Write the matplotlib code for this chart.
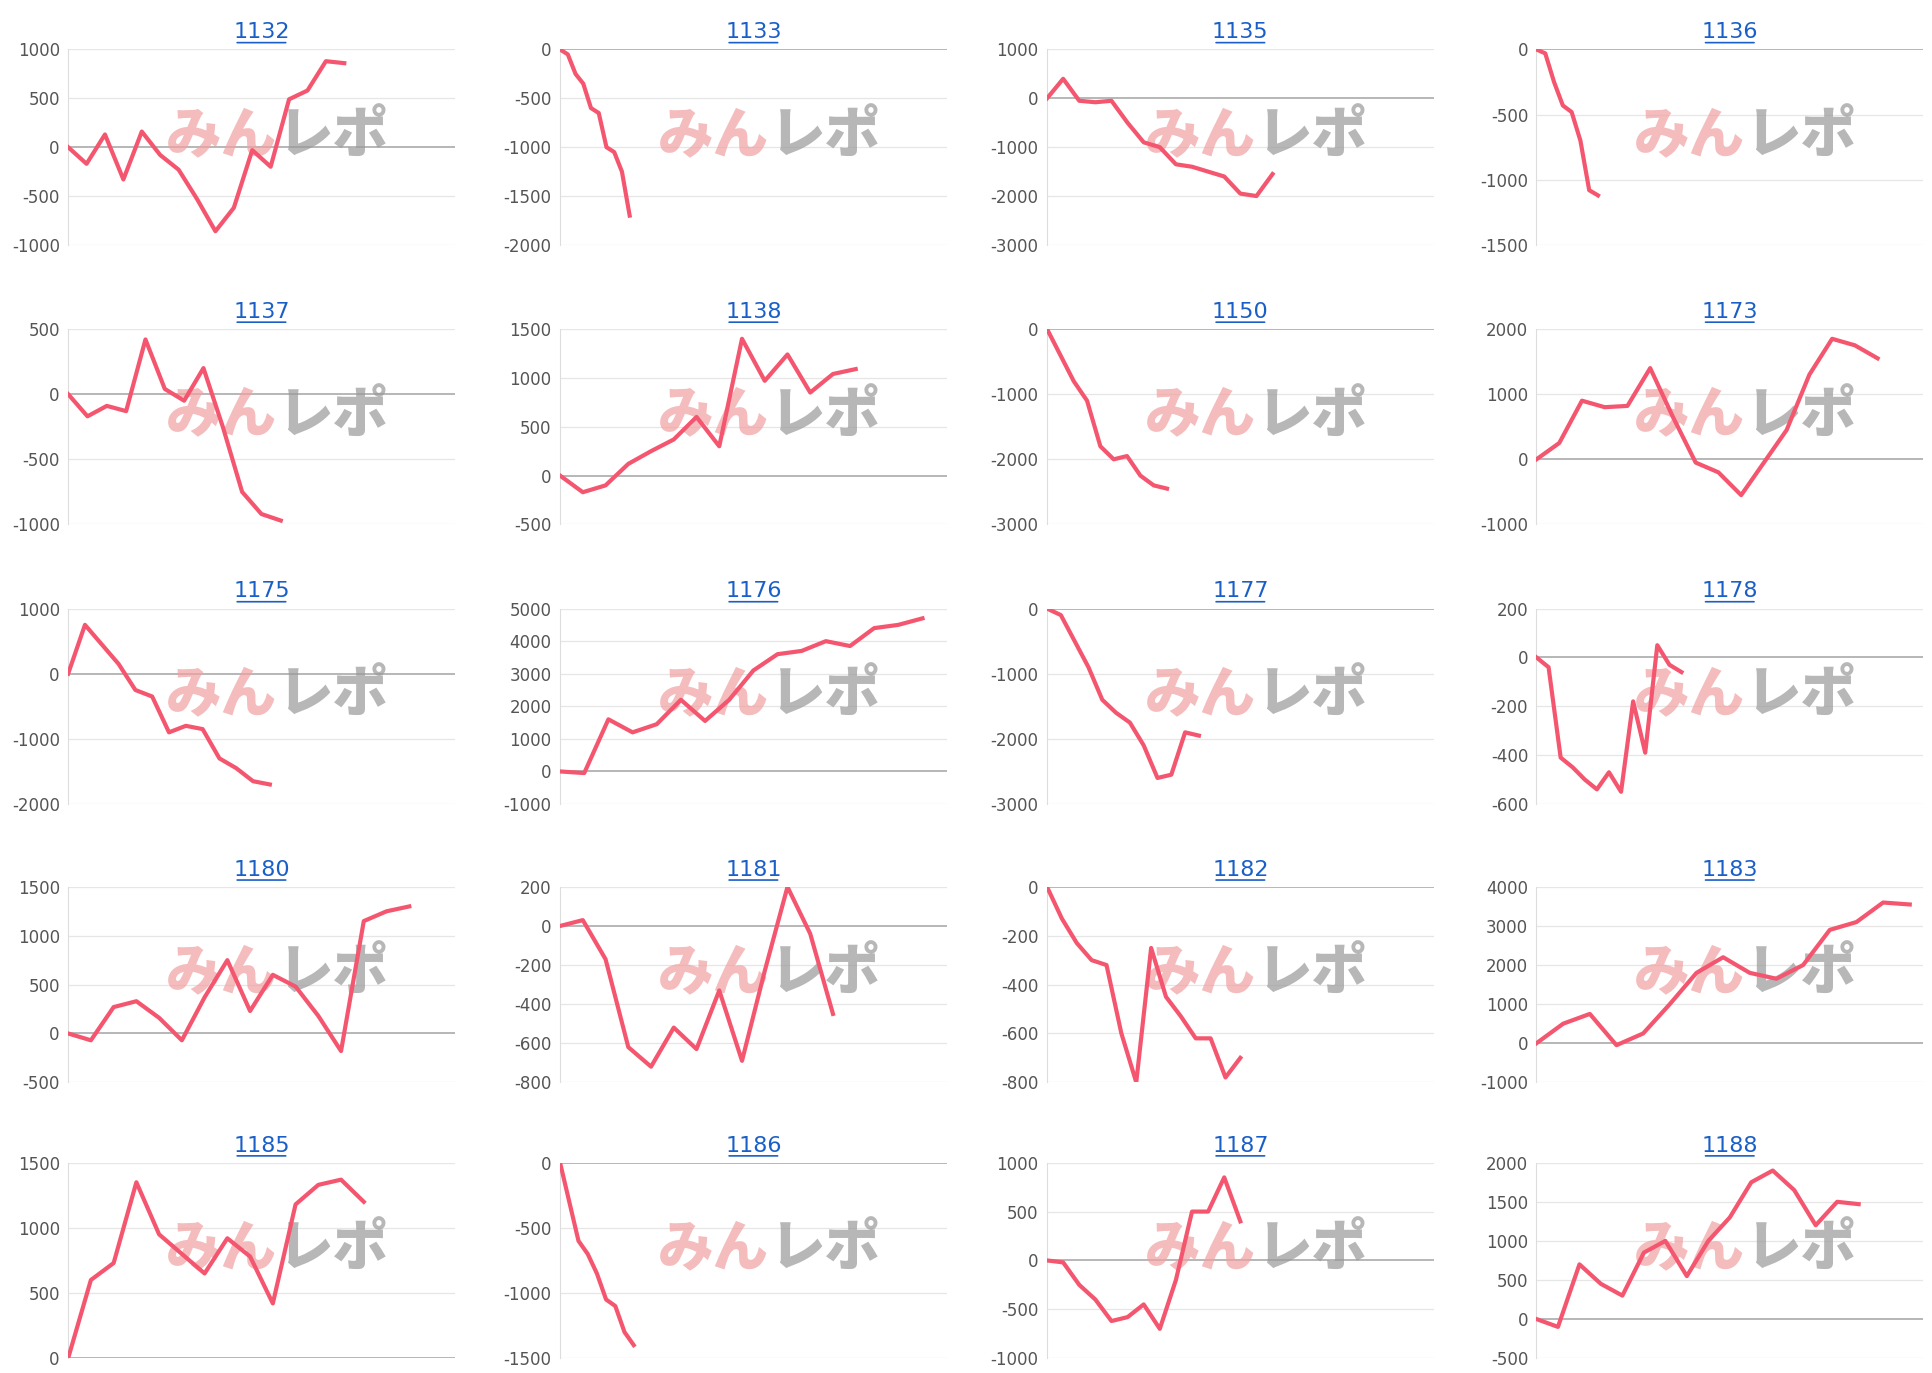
import matplotlib
matplotlib.use("Agg")
import matplotlib.pyplot as plt
import numpy as np

titles = ["1132","1133","1135","1136","1137","1138","1150","1173","1175","1176",
          "1177","1178","1180","1181","1182","1183","1185","1186","1187","1188"]
s1132 = [0,-170,130,-330,160,-80,-230,-530,-860,-620,-30,-200,490,580,880,860]
s1133 = [0,-50,-250,-350,-600,-650,-1000,-1050,-1250,-1700]
s1135 = [0,400,-50,-80,-50,-500,-900,-1000,-1350,-1400,-1500,-1600,-1950,-2000,-1550]
s1136 = [0,-30,-250,-430,-480,-700,-1080,-1120]
s1137 = [0,-170,-90,-130,420,40,-50,200,-250,-750,-920,-970]
s1138 = [0,-170,-100,120,250,370,600,300,1400,970,1240,850,1040,1090]
s1150 = [0,-400,-800,-1100,-1800,-2000,-1950,-2250,-2400,-2450]
s1173 = [0,250,900,800,820,1400,650,-50,-200,-550,-50,450,1300,1850,1750,1550]
s1175 = [0,750,450,150,-250,-350,-900,-800,-850,-1300,-1450,-1650,-1700]
s1176 = [0,-50,1600,1200,1450,2200,1550,2200,3100,3600,3700,4000,3850,4400,4500,4700]
s1177 = [0,-100,-500,-900,-1400,-1600,-1750,-2100,-2600,-2550,-1900,-1950]
s1178 = [0,-40,-410,-450,-500,-540,-470,-550,-180,-390,50,-30,-60]
s1180 = [0,-70,270,330,160,-70,370,750,230,600,480,180,-180,1150,1250,1300]
s1181 = [0,30,-170,-620,-720,-520,-630,-330,-690,-230,200,-40,-450]
s1182 = [0,-130,-230,-300,-320,-600,-800,-250,-450,-530,-620,-620,-780,-700]
s1183 = [0,500,750,-50,250,1000,1800,2200,1800,1650,2000,2900,3100,3600,3550]
s1185 = [0,600,730,1350,950,800,650,920,780,420,1180,1330,1370,1200]
s1186 = [0,-300,-600,-700,-850,-1050,-1100,-1300,-1400]
s1187 = [0,-20,-250,-400,-620,-580,-450,-700,-200,500,500,850,400]
s1188 = [0,-100,700,450,300,850,1000,550,1000,1300,1750,1900,1650,1200,1500,1470]
series = [s1132,s1133,s1135,s1136,s1137,s1138,s1150,s1173,s1175,s1176,
          s1177,s1178,s1180,s1181,s1182,s1183,s1185,s1186,s1187,s1188]
xmax = [21,50,24,44,20,17,29,17,23,16,28,32,17,17,26,14.5,17,42,24,18]
yticks = [(-1000,1000,500),(-2000,0,500),(-3000,1000,1000),(-1500,0,500),(-1000,500,500),
          (-500,1500,500),(-3000,0,1000),(-1000,2000,1000),(-2000,1000,1000),(-1000,5000,1000),
          (-3000,0,1000),(-600,200,200),(-500,1500,500),(-800,200,200),(-800,0,200),
          (-1000,4000,1000),(0,1500,500),(-1500,0,500),(-1000,1000,500),(-500,2000,500)]

fig = plt.figure(figsize=(19.33,13.73), dpi=100)
W, H = 1560, 1110
lefts = [55, 452, 845, 1240]
tops = [40, 266, 492, 717, 940]
for i, (t, s) in enumerate(zip(titles, series)):
    r, c = divmod(i, 4)
    l = lefts[c]; tp = tops[r]
    ax = fig.add_axes([l/W, 1-(tp+158)/H, 312/W, 158/H])
    lo, hi, st = yticks[i]
    ticks = np.arange(lo, hi+st/2, st)
    ax.set_ylim(lo, hi); ax.set_yticks(ticks)
    ax.set_yticklabels([f"{int(v)}" for v in ticks], fontsize=12, color="#555555")
    ax.set_xlim(0, xmax[i]); ax.set_xticks([])
    for v in ticks:
        ax.axhline(v, color="#aaaaaa" if v == 0 else "#e6e6e6", lw=1.2 if v == 0 else 0.9, zorder=0)
    for sp in ["top","right","bottom"]:
        ax.spines[sp].set_visible(False)
    ax.spines["left"].set_color("#dddddd")
    ax.tick_params(axis="y", length=0, pad=6)
    ax.text(0.54, 0.56, "みん", transform=ax.transAxes, fontsize=40, fontweight="black",
            color="#f0a0a0", alpha=0.7, ha="right", va="center",
            family=["Noto Sans CJK JP","DejaVu Sans"], zorder=1)
    ax.text(0.54, 0.56, "レポ", transform=ax.transAxes, fontsize=40, fontweight="black",
            color="#999999", alpha=0.7, ha="left", va="center",
            family=["Noto Sans CJK JP","DejaVu Sans"], zorder=1)
    ax.plot(np.arange(len(s)), s, color="#f5566f", lw=3, zorder=3)
    ax.set_title(t, fontsize=16, color="#1a5fc8", pad=8)
    ax.annotate("", xy=(0.43,1.035), xytext=(0.57,1.035), xycoords="axes fraction",
                arrowprops=dict(arrowstyle="-", color="#1a5fc8", lw=1.2))
fig.savefig("out.png", dpi=100, facecolor="white")
